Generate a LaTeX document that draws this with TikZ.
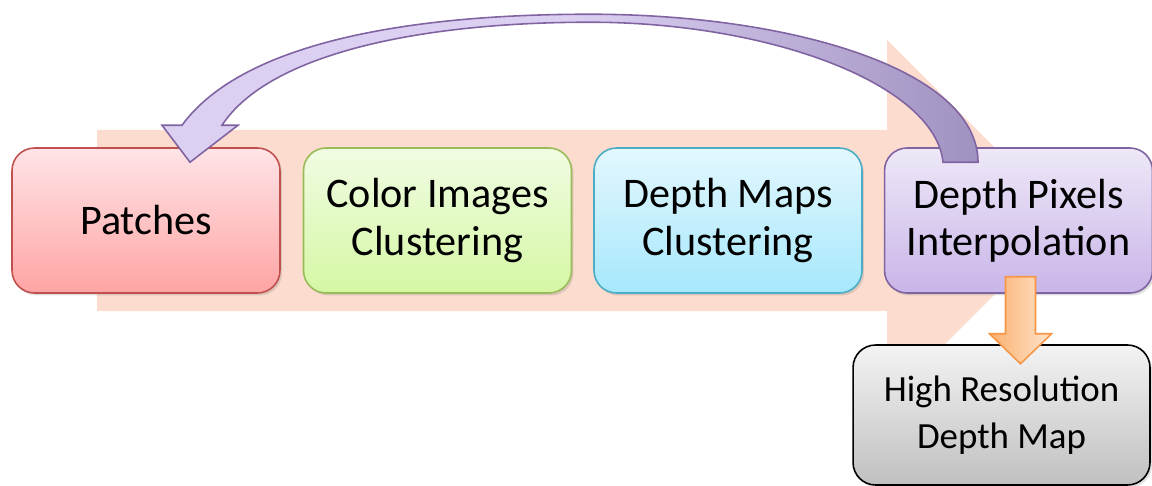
\documentclass[tikz,border=0pt]{standalone}
\usepackage{fontspec}
\setmainfont{Carlito}
\usetikzlibrary{calc,shadows}
\definecolor{bandpeach}{RGB}{251,220,206}
\definecolor{patchtop}{RGB}{255,228,231}
\definecolor{patchbot}{RGB}{255,164,164}
\definecolor{patchline}{RGB}{192,80,77}
\definecolor{colortop}{RGB}{240,252,227}
\definecolor{colorbot}{RGB}{213,247,164}
\definecolor{colorline}{RGB}{155,187,89}
\definecolor{depthtop}{RGB}{227,247,254}
\definecolor{depthbot}{RGB}{166,232,252}
\definecolor{depthline}{RGB}{75,172,198}
\definecolor{interptop}{RGB}{238,232,248}
\definecolor{interpbot}{RGB}{201,181,232}
\definecolor{interpline}{RGB}{128,100,162}
\definecolor{resulttop}{RGB}{243,243,243}
\definecolor{resultbot}{RGB}{192,192,192}
\definecolor{looplight}{RGB}{220,208,242}
\definecolor{loopdark}{RGB}{160,146,192}
\definecolor{downlight}{RGB}{255,228,204}
\definecolor{downdark}{RGB}{250,176,110}
\definecolor{downline}{RGB}{247,150,70}
\newcommand{\stagefont}{\fontsize{24}{27}\selectfont}
\newcommand{\resultfont}{\fontsize{21}{26.5}\selectfont}
\tikzset{
  stage/.style={draw, line width=0.9pt, rounded corners=0.45cm,
                minimum width=5.36cm, minimum height=2.9cm,
                align=center, font=\stagefont,
                drop shadow={shadow xshift=0.04cm, shadow yshift=-0.05cm, opacity=0.25}},
  stagered/.style={stage, draw=patchline, top color=patchtop, bottom color=patchbot},
  stagegreen/.style={stage, draw=colorline, top color=colortop, bottom color=colorbot},
  stagecyan/.style={stage, draw=depthline, top color=depthtop, bottom color=depthbot},
  stageviolet/.style={stage, draw=interpline, top color=interptop, bottom color=interpbot},
  stagegray/.style={stage, draw=black, top color=resulttop, bottom color=resultbot,
                    minimum width=5.94cm, minimum height=2.8cm, font=\resultfont},
  band/.style={fill=bandpeach, draw=none},
  loop/.style={draw=interpline, line width=0.9pt, left color=looplight,
               right color=loopdark, middle color=looplight},
  down/.style={draw=downline, line width=0.9pt, left color=downdark, right color=downlight},
}

\begin{document}
\begin{tikzpicture}[x=0.02cm,y=-0.02cm]
  \path[use as bounding box] (0,0) rectangle (1152,486);

  % wide process arrow behind the stages
  \fill[band] (97,130) -- (887,130) -- (887,40) -- (1068,221)
    -- (887,402) -- (887,311) -- (97,311) -- cycle;

  % the four stages
  \node[stagered] (patches) at (146,220.5) {Patches};
  \node[stagegreen] (colorclu) at (437.5,220.5) {Color Images\\Clustering};
  \node[stagecyan] (depthclu) at (728,220.5) {Depth Maps\\Clustering};
  \node[stageviolet] (interp) at (1018.5,220.5) {Depth Pixels\\Interpolation};
  \node[stagegray] (result) at (1001.5,415) {High Resolution\\Depth Map};

  % curved arrow back to the first stage
  \coordinate (S) at ($(interp.north)+(-40.5,15)$);
  \coordinate (T) at ($(patches.north)+(44,15)$);
  \filldraw[loop] (S) .. controls ($(S)+(0,-93)$) and ($(S)+(-188,-148)$) .. ($(T)+(400,-148)$)
    .. controls ($(T)+(230,-148)$) and ($(T)+(55,-123)$) .. ($(T)+(-8,-37)$)
    -- ($(T)+(-28,-37)$) -- (T) -- ($(T)+(48,-37)$) -- ($(T)+(32,-37)$)
    .. controls ($(T)+(80,-110)$) and ($(T)+(235,-140)$) .. ($(T)+(400,-140)$)
    .. controls ($(S)+(-208,-140)$) and ($(S)+(-43,-78)$) .. ($(S)+(-35,0)$) -- cycle;

  % block arrow down to the result
  \coordinate (dtop) at ($(interp.south)+(2,-17)$);
  \coordinate (dtip) at ($(dtop)+(0,87)$);
  \filldraw[down] ($(dtop)+(-15,0)$) -- ($(dtop)+(-15,57)$) -- ($(dtop)+(-31,57)$)
    -- (dtip) -- ($(dtop)+(31,57)$) -- ($(dtop)+(15,57)$) -- ($(dtop)+(15,0)$) -- cycle;
\end{tikzpicture}
\end{document}
